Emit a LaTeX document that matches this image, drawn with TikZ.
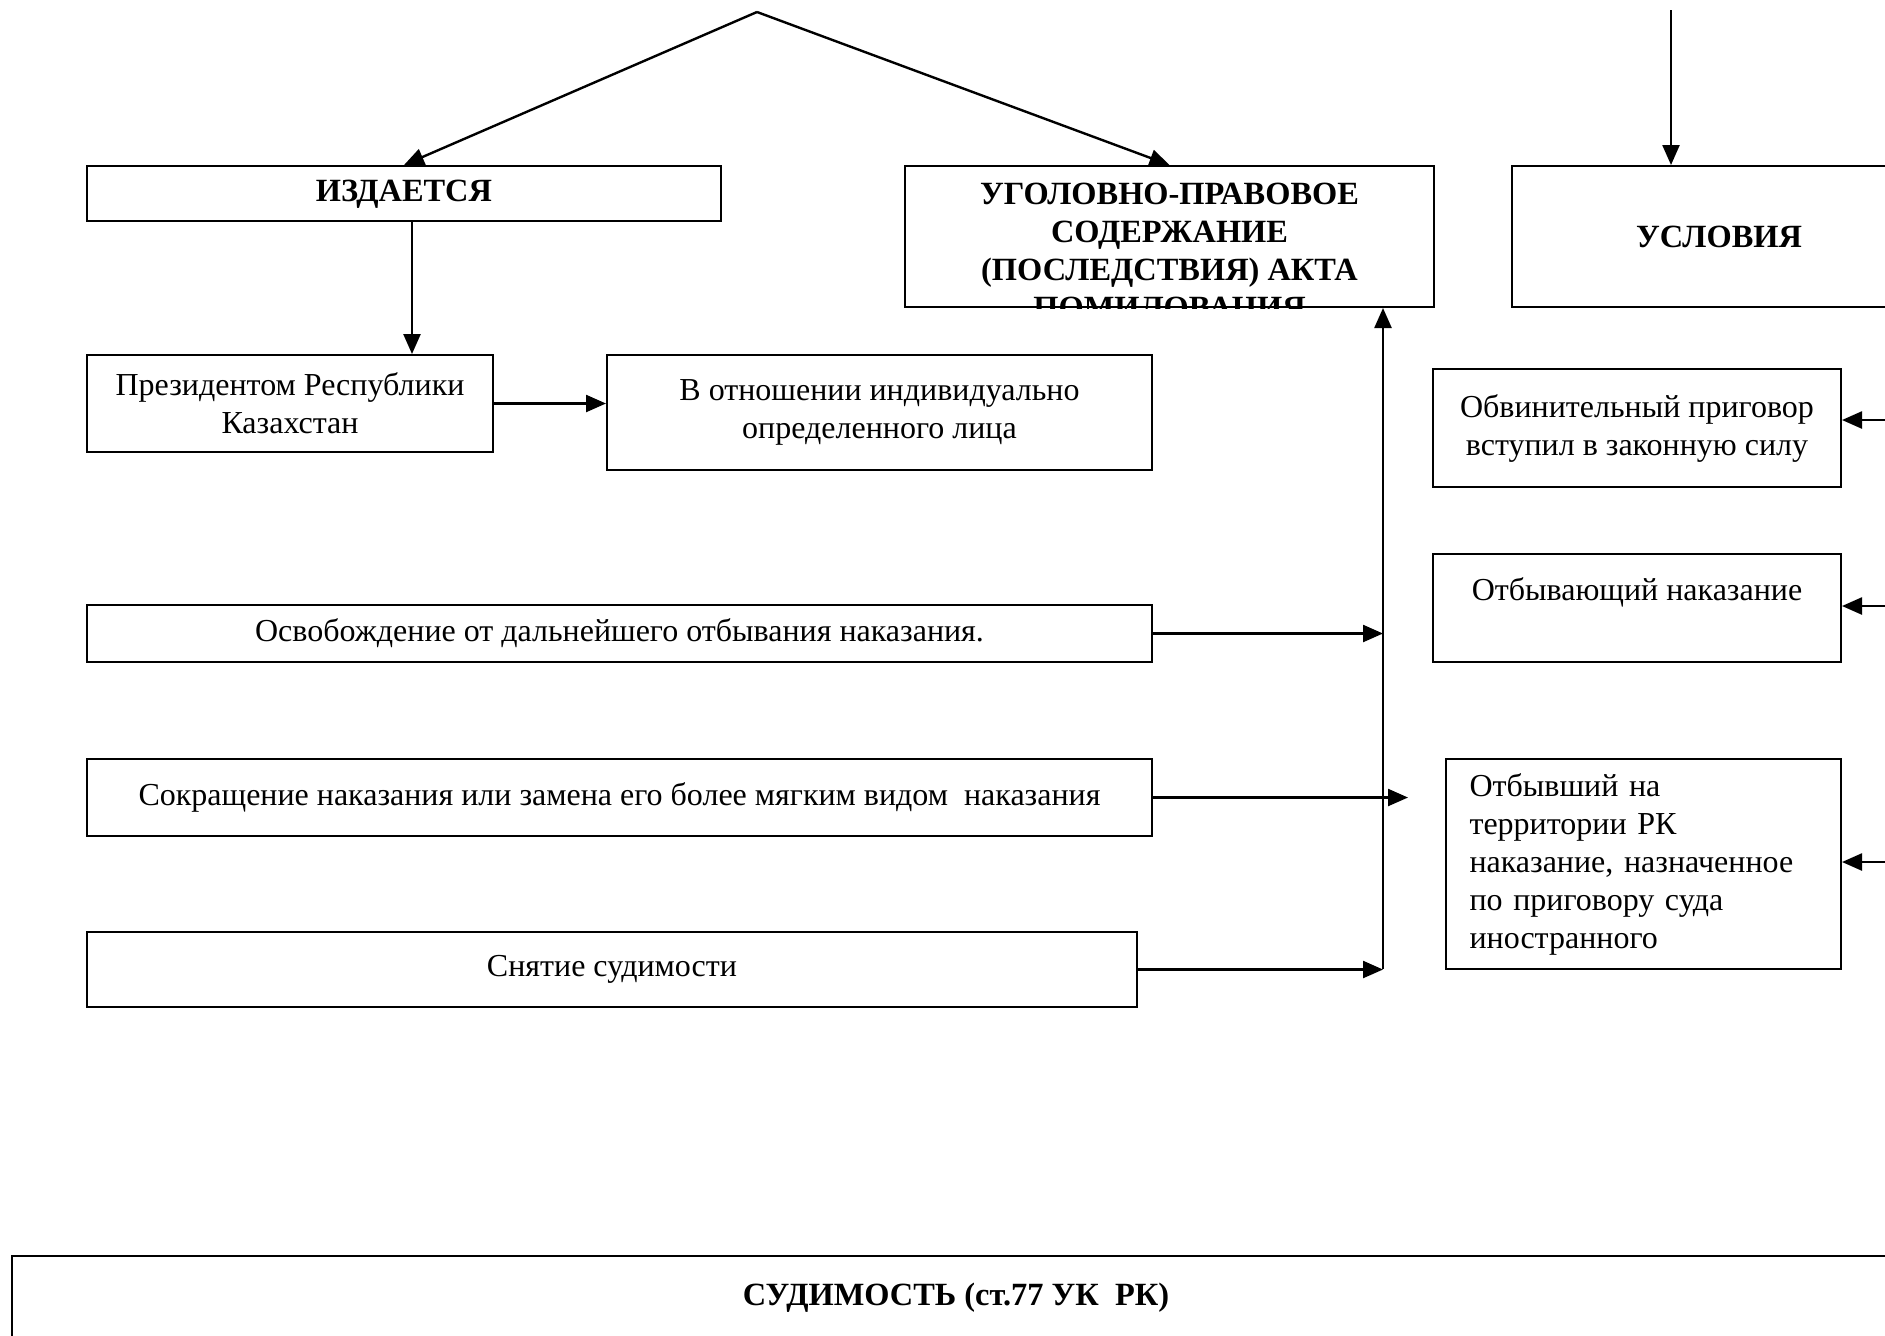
\documentclass[tikz,border=0pt]{standalone}
\usepackage{fontspec}
\setmainfont{Liberation Serif}
\usetikzlibrary{arrows.meta,positioning,calc}
\tikzset{box/.style={draw,line width=1pt,align=center,inner sep=2pt,font=\fontsize{16}{19}\selectfont},head/.style={box,font=\fontsize{16.2}{19}\selectfont\bfseries},arr/.style={-{Triangle[length=10pt,width=8.5pt]},line width=1.2pt}}

\begin{document}
\begin{tikzpicture}[x=0.5pt,y=-0.5pt]
\useasboundingbox (0,0) rectangle (1885,1335);
\clip (0,0) rectangle (1885,1335);
\coordinate (apex) at (757,12);
\coordinate (utop) at (1671,10);
\coordinate (vbot) at (1383,969);
\coordinate (r1) at (1900,420); \coordinate (r2) at (1900,606); \coordinate (r3) at (1900,862);
\node[head,minimum width=317pt,minimum height=27.5pt] (izd) at (404,193.5) {\strut ИЗДАЕТСЯ};
\coordinate (izdout) at (412,221);
\node[box,minimum width=264.5pt,minimum height=70.5pt] (soderzh) at (1169.5,236.5) {};
\begin{scope}
\clip (soderzh.north west) rectangle (soderzh.south east);
\node[head,draw=none,anchor=north] (soderztxt) at (1169.5,178) {УГОЛОВНО-ПРАВОВОЕ\\СОДЕРЖАНИЕ\\(ПОСЛЕДСТВИЯ) АКТА\\ПОМИЛОВАНИЯ};
\end{scope}
\node[head,minimum width=207pt,minimum height=70.5pt] (usl) at (1719,236.5) {УСЛОВИЯ};
\node[box,minimum width=203pt,minimum height=48.5pt] (prez) at (290,403.5) {Президентом Республики\\Казахстан};
\node[box,minimum width=272.5pt,minimum height=57.5pt] (otn) at (879.5,412.5) {В отношении индивидуально\\определенного лица};
\node[box,minimum width=532.5pt,minimum height=28.5pt] (osv) at (619.5,633.5) {Освобождение от дальнейшего отбывания наказания.};
\node[box,minimum width=532.5pt,minimum height=38.5pt] (sokr) at (619.5,797.5) {Сокращение наказания или замена его более мягким видом\ \ наказания};
\node[box,minimum width=525pt,minimum height=37.5pt] (snyat) at (612,969.5) {Снятие судимости};
\node[box,minimum width=204pt,minimum height=59pt] (obv) at (1637,428) {Обвинительный приговор\\вступил в законную силу};
\node[box,minimum width=204pt,minimum height=54pt] (otbyv) at (1637,608) {Отбывающий наказание\\\mbox{}};
\node[box,minimum width=197.5pt,minimum height=105pt,text width=174pt,align=left] (otbysh) at (1643.5,864) {Отбывший на\\территории РК\\наказание, назначенное\\по приговору суда\\иностранного};
\node[head,minimum width=944pt,minimum height=42pt] (sud) at (956,1298) {СУДИМОСТЬ (ст.77 УК\ \ РК)};
\draw[arr] (apex) -- (izd.north);
\draw[arr] (apex) -- (soderzh.north);
\draw[arr] (utop) -- (utop |- usl.north);
\draw[arr] (izdout) -- (izdout |- prez.north);
\draw[arr] (prez.east) -- (otn.west |- prez.east);
\draw[arr] (osv.east) -- (osv.east -| vbot);
\draw[arr] (sokr.east) -- ++(255,0);
\draw[arr] (snyat.east) -- (snyat.east -| vbot);
\draw[arr] (vbot) -- (vbot |- soderzh.south);
\draw[arr] (r1) -- (r1 -| obv.east);
\draw[arr] (r2) -- (r2 -| otbyv.east);
\draw[arr] (r3) -- (r3 -| otbysh.east);
\end{tikzpicture}
\end{document}
